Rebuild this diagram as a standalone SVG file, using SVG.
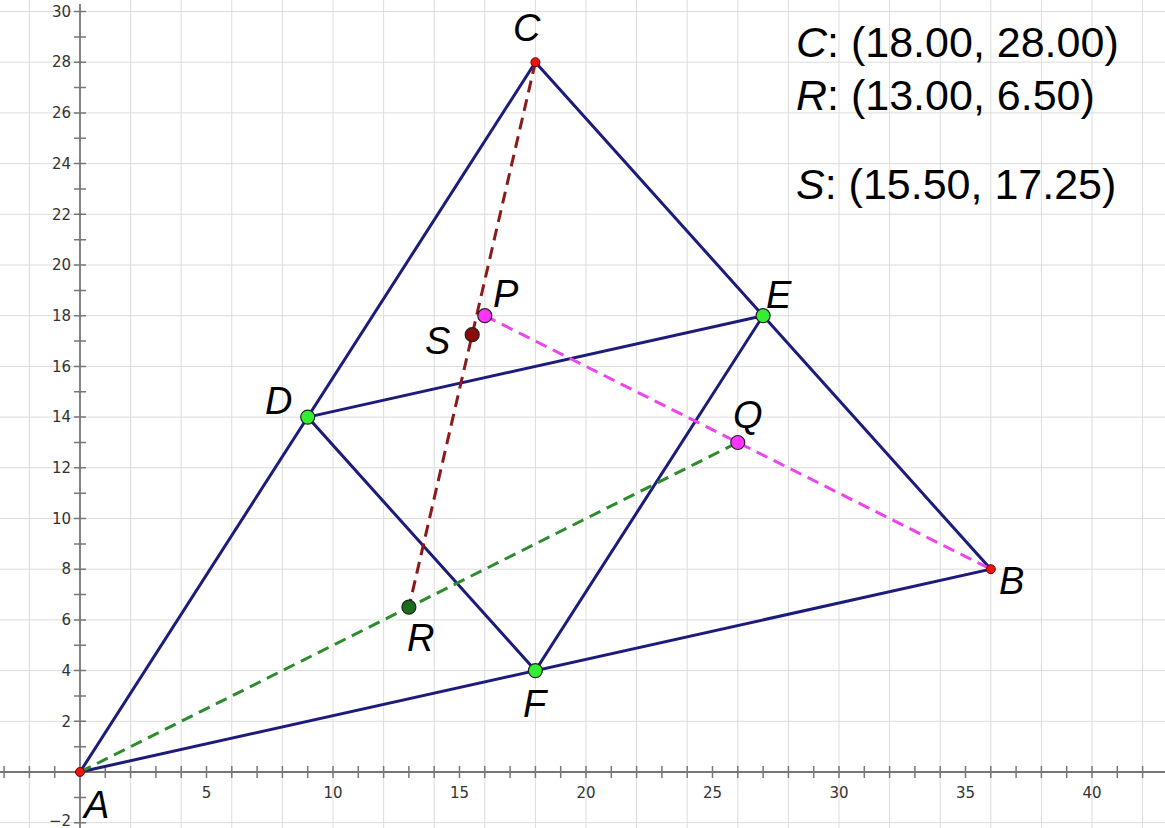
<svg xmlns="http://www.w3.org/2000/svg" width="1165" height="828" viewBox="0 0 1165 828">
<style>
.grid{stroke:#dcdcdc;stroke-width:1;fill:none}
.axis{stroke:#777;stroke-width:1.8;fill:none}
.tick{stroke:#777;stroke-width:1.5;fill:none}
.num{font-family:"DejaVu Sans",sans-serif;font-size:15px;fill:#333}
.seg{stroke:#1c1c7c;stroke-width:3;fill:none;stroke-linecap:round}
.dash{stroke-width:3;fill:none;stroke-dasharray:12 7}
.lbl{font-family:"Liberation Sans",Arial,sans-serif;font-style:italic;font-size:38px;fill:#000}
.coord{font-family:"Liberation Sans",Arial,sans-serif;font-size:43px;fill:#000}
.big{stroke:#222;stroke-width:1.2}
.small{stroke:#7a0000;stroke-width:1}
</style>
<rect width="1165" height="828" fill="#fff"/>
<g id="grid">
<path class="grid" d="M29.4 0V828M130.6 0V828M181.2 0V828M231.8 0V828M282.4 0V828M333 0V828M383.6 0V828M434.2 0V828M484.8 0V828M535.4 0V828M586 0V828M636.6 0V828M687.2 0V828M737.8 0V828M788.4 0V828M839 0V828M889.6 0V828M940.2 0V828M990.8 0V828M1041.4 0V828M1092 0V828M1142.6 0V828"/>
<path class="grid" d="M0 822.7H1165M0 721.3H1165M0 670.6H1165M0 619.9H1165M0 569.2H1165M0 518.5H1165M0 467.8H1165M0 417.1H1165M0 366.4H1165M0 315.7H1165M0 265H1165M0 214.3H1165M0 163.6H1165M0 112.9H1165M0 62.2H1165M0 11.5H1165"/>
</g>
<g id="axes">
<path class="axis" d="M0 772H1165M80 4V828"/>
<path class="tick" d="M4.1 766V778M29.4 766V778M54.7 766V778M105.3 766V778M130.6 766V778M155.9 766V778M181.2 766V778M206.5 766V778M231.8 766V778M257.1 766V778M282.4 766V778M307.7 766V778M333 766V778M358.3 766V778M383.6 766V778M408.9 766V778M434.2 766V778M459.5 766V778M484.8 766V778M510.1 766V778M535.4 766V778M560.7 766V778M586 766V778M611.3 766V778M636.6 766V778M661.9 766V778M687.2 766V778M712.5 766V778M737.8 766V778M763.1 766V778M788.4 766V778M813.7 766V778M839 766V778M864.3 766V778M889.6 766V778M914.9 766V778M940.2 766V778M965.5 766V778M990.8 766V778M1016.1 766V778M1041.4 766V778M1066.7 766V778M1092 766V778M1117.3 766V778M1142.6 766V778"/>
<path class="tick" d="M74 822.7H86M74 797.4H86M74 746.7H86M74 721.3H86M74 696H86M74 670.6H86M74 645.3H86M74 619.9H86M74 594.6H86M74 569.2H86M74 543.9H86M74 518.5H86M74 493.2H86M74 467.8H86M74 442.5H86M74 417.1H86M74 391.8H86M74 366.4H86M74 341.1H86M74 315.7H86M74 290.4H86M74 265H86M74 239.7H86M74 214.3H86M74 189H86M74 163.6H86M74 138.3H86M74 112.9H86M74 87.6H86M74 62.2H86M74 36.9H86M74 11.5H86"/>
<g class="num" text-anchor="middle">
<text x="206.5" y="798">5</text><text x="333" y="798">10</text><text x="459.5" y="798">15</text><text x="586" y="798">20</text><text x="712.5" y="798">25</text><text x="839" y="798">30</text><text x="965.5" y="798">35</text><text x="1092" y="798">40</text>
</g>
<g class="num" text-anchor="end">
<text x="71" y="826">−2</text><text x="71" y="726.5">2</text><text x="71" y="675.8">4</text><text x="71" y="625.1">6</text><text x="71" y="574.4">8</text><text x="71" y="523.7">10</text><text x="71" y="473">12</text><text x="71" y="422.3">14</text><text x="71" y="371.6">16</text><text x="71" y="320.9">18</text><text x="71" y="270.2">20</text><text x="71" y="219.5">22</text><text x="71" y="168.8">24</text><text x="71" y="118.1">26</text><text x="71" y="67.4">28</text><text x="71" y="16.7">30</text>
</g>
</g>
<g id="connectors">
<path class="seg" d="M80 772L990.8 569.2L535.4 62.2Z"/>
<path class="seg" d="M307.7 417.1L763.1 315.7L535.4 670.6Z"/>
<path class="dash" stroke="#8b1a1a" d="M535.4 62.2L408.9 607.2"/>
<path class="dash" stroke="#ee44ee" d="M484.8 315.7L990.8 569.2"/>
<path class="dash" stroke="#2e8b2e" d="M80 772L737.8 442.5"/>
</g>
<g id="A"><circle cx="80" cy="772" r="4.5" fill="#ee1111" class="small"/><text class="lbl" x="84" y="818">A</text></g>
<g id="B"><circle cx="990.8" cy="569.2" r="4.5" fill="#ee1111" class="small"/><text class="lbl" x="999" y="594">B</text></g>
<g id="C"><circle cx="535.4" cy="62.2" r="4.5" fill="#ee1111" class="small"/><text class="lbl" x="513" y="41">C</text></g>
<g id="D"><circle cx="307.7" cy="417.1" r="7" fill="#33ee33" class="big"/><text class="lbl" x="265" y="414">D</text></g>
<g id="E"><circle cx="763.1" cy="315.7" r="7" fill="#33ee33" class="big"/><text class="lbl" x="766" y="308">E</text></g>
<g id="F"><circle cx="535.4" cy="670.6" r="7" fill="#33ee33" class="big"/><text class="lbl" x="523" y="717">F</text></g>
<g id="P"><circle cx="484.8" cy="315.7" r="7" fill="#ff33ff" class="big"/><text class="lbl" x="493" y="307">P</text></g>
<g id="Q"><circle cx="737.8" cy="442.5" r="7" fill="#ff33ff" class="big"/><text class="lbl" x="733" y="428">Q</text></g>
<g id="R"><circle cx="408.9" cy="607.2" r="7" fill="#1a6e1a" class="big"/><text class="lbl" x="407" y="651">R</text></g>
<g id="S"><circle cx="472.2" cy="334.7" r="7" fill="#8b0a0a" class="big"/><text class="lbl" x="425" y="354">S</text></g>
<g id="coords">
<text class="coord" x="796" y="57"><tspan font-style="italic">C</tspan>: (18.00, 28.00)</text>
<text class="coord" x="796" y="110"><tspan font-style="italic">R</tspan>: (13.00, 6.50)</text>
<text class="coord" x="796" y="199"><tspan font-style="italic">S</tspan>: (15.50, 17.25)</text>
</g>
</svg>
